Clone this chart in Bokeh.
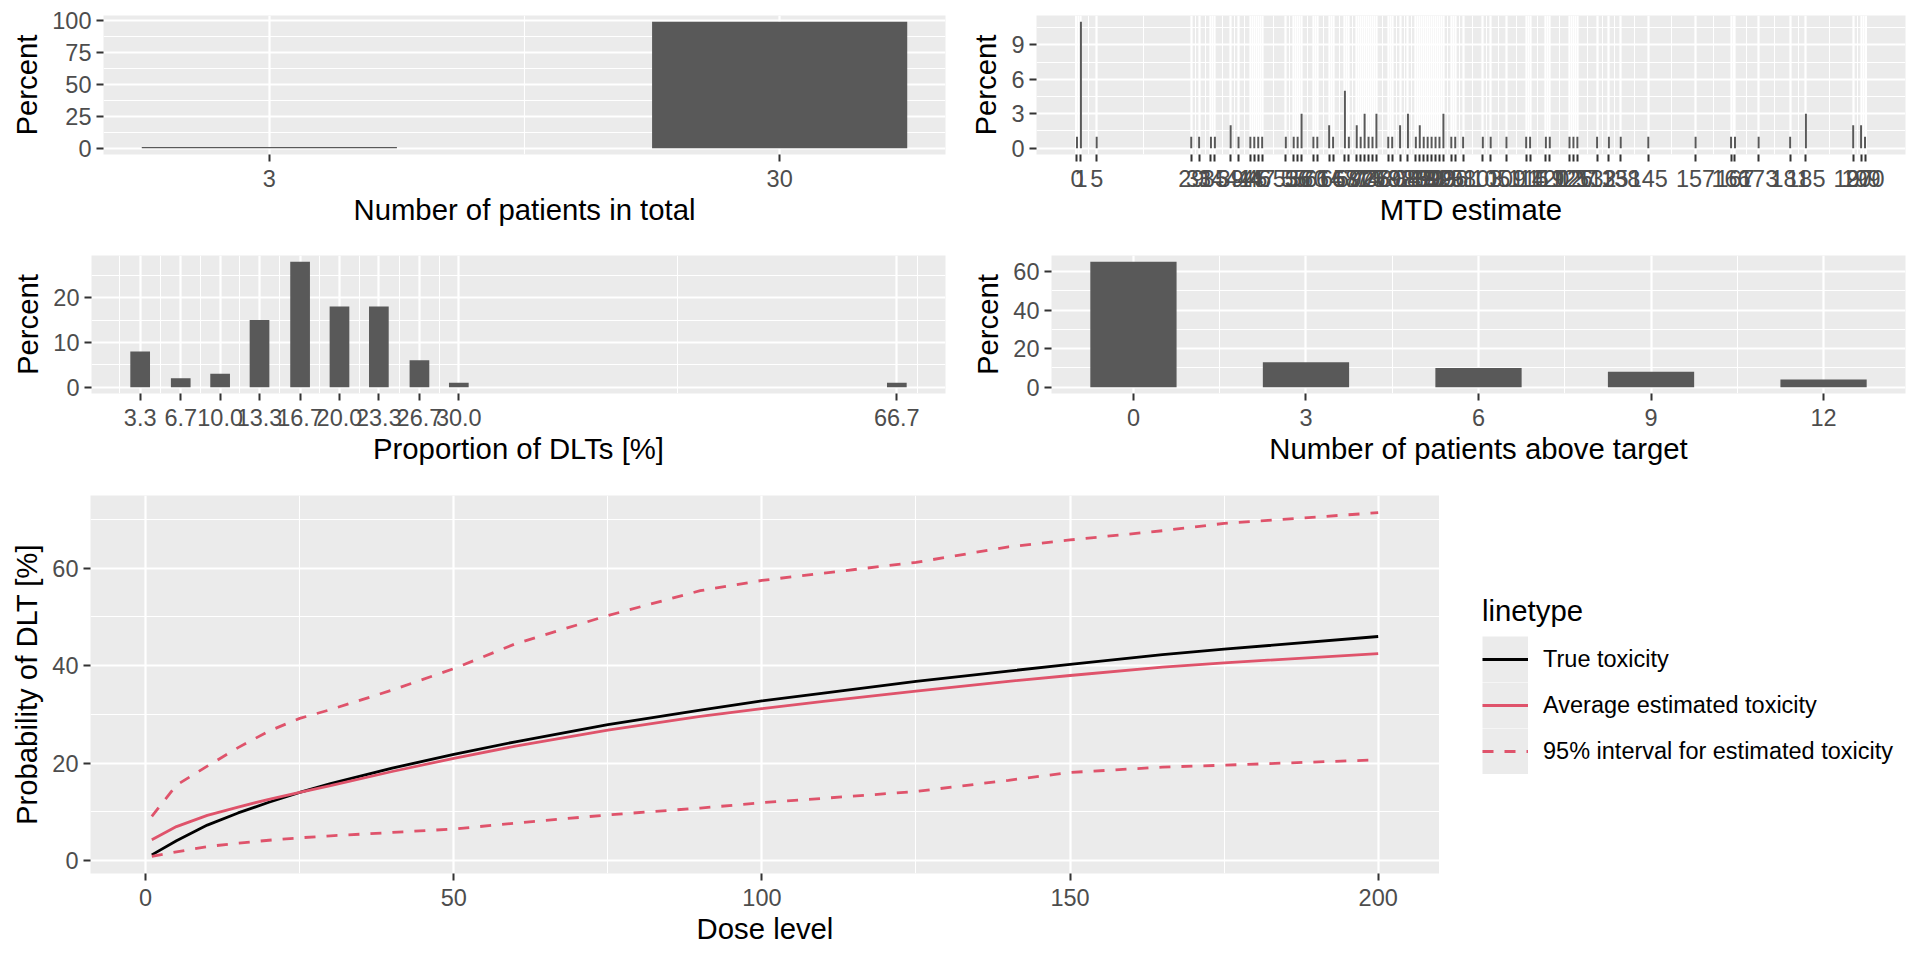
import numpy as np
from bokeh.plotting import figure
from bokeh.models import FixedTicker, Range1d, Legend, LegendItem, PrintfTickFormatter
from bokeh.layouts import row, column
from bokeh.embed import file_html
from bokeh.resources import INLINE

FONT = "Liberation Sans"
PANEL = "#EBEBEB"
BAR = "#595959"
RED = "#DF536B"
TICK_FS = "23.5px"
TITLE_FS = "29.3px"

# ---------------- data ----------------
patients_total = [3, 30]
patients_total_pct = [1, 99]

mtd_values = [0, 1, 5, 29, 31, 34, 35, 39, 41, 44, 45, 46, 47, 53, 55, 56, 57,
              60, 61, 64, 65, 68, 69, 71, 72, 73, 74, 75, 76, 79, 80, 82, 84,
              86, 87, 88, 89, 90, 91, 92, 93, 95, 96, 98, 103, 105, 109, 114,
              115, 119, 120, 125, 126, 127, 132, 135, 138, 145, 157, 166, 167,
              173, 181, 185, 197, 199, 200]
mtd_pct = [1, 11, 1, 1, 1, 1, 1, 2, 1, 1, 1, 1, 1, 1, 1, 1, 3,
           1, 1, 2, 1, 5, 1, 2, 1, 3, 1, 1, 3, 1, 1, 2, 3,
           1, 2, 1, 1, 1, 1, 1, 3, 1, 1, 1, 1, 1, 1, 1,
           1, 1, 1, 1, 1, 1, 1, 1, 1, 1, 1, 1, 1,
           1, 1, 3, 2, 2, 1]

dlt_values = [3.3, 6.7, 10.0, 13.3, 16.7, 20.0, 23.3, 26.7, 30.0, 66.7]
dlt_pct = [8, 2, 3, 15, 28, 18, 18, 6, 1, 1]

above_values = [0, 3, 6, 9, 12]
above_pct = [65, 13, 10, 8, 4]

dose = [1, 5, 10, 15, 20, 25, 30, 40, 50, 60, 75, 90, 100, 110, 125, 140, 150, 165, 175, 200]
true_tox = [1.2, 4.1, 7.3, 9.8, 12.0, 14.0, 15.8, 19.0, 21.8, 24.4, 27.9, 30.9, 32.8, 34.4, 36.8, 38.9, 40.3, 42.3, 43.4, 46.0]
avg_tox = [4.3, 7.0, 9.3, 11.0, 12.6, 14.0, 15.4, 18.3, 21.0, 23.5, 26.8, 29.6, 31.2, 32.7, 34.8, 36.8, 38.0, 39.7, 40.6, 42.5]
upper_tox = [9.1, 15.5, 19.4, 23.2, 26.6, 29.2, 31.0, 35.0, 39.4, 44.5, 50.3, 55.4, 57.5, 59.0, 61.2, 64.4, 65.8, 67.7, 69.2, 71.4]
lower_tox = [0.9, 1.8, 2.9, 3.6, 4.2, 4.7, 5.1, 5.8, 6.5, 7.7, 9.4, 10.8, 11.9, 12.8, 14.2, 16.5, 18.1, 19.2, 19.6, 20.7]

yt_total = [0, 25, 50, 75, 100]
yt_mtd = [0, 3, 6, 9]
yt_dlt = [0, 10, 20]
yt_above = [0, 20, 40, 60]
xt_dose = [0, 50, 100, 150, 200]
yt_dose = [0, 20, 40, 60]


# ---------------- helpers ----------------
def expand(lo, hi, mult=0.05):
    d = (hi - lo) * mult
    return lo - d, hi + d


def minor_breaks(major, lo, hi):
    b = list(major)
    if len(b) < 2:
        return []
    bd = b[1] - b[0]
    if lo < b[0]:
        b = [b[0] - bd] + b
    if hi > b[-1]:
        b = b + [b[-1] + bd]
    m = [(a + c) / 2 for a, c in zip(b[:-1], b[1:])]
    return [x for x in m if lo <= x <= hi]


def make_panel(width, height, left, right, top, bottom, xr, yr,
               xticks, yticks, xlabel, ylabel, xfmt=None):
    p = figure(width=width, height=height,
               x_range=Range1d(*xr), y_range=Range1d(*yr),
               output_backend="svg", toolbar_location=None,
               min_border_left=left, min_border_right=right,
               min_border_top=top, min_border_bottom=bottom)
    p.background_fill_color = PANEL
    p.border_fill_color = "white"
    p.outline_line_color = None
    xtk = FixedTicker(ticks=list(xticks), minor_ticks=minor_breaks(xticks, *xr))
    ytk = FixedTicker(ticks=list(yticks), minor_ticks=minor_breaks(yticks, *yr))
    p.xaxis.ticker = xtk
    p.yaxis.ticker = ytk
    p.xgrid.ticker = xtk
    p.ygrid.ticker = ytk
    if xfmt is not None:
        p.xaxis.formatter = xfmt
    for ax in (p.xaxis[0], p.yaxis[0]):
        ax.axis_line_color = None
        ax.major_tick_line_color = "#333333"
        ax.major_tick_line_width = 2
        ax.major_tick_out = 7
        ax.major_tick_in = 0
        ax.minor_tick_line_color = None
        ax.major_label_text_font = FONT
        ax.major_label_text_font_size = TICK_FS
        ax.major_label_text_color = "#4D4D4D"
        ax.axis_label_text_font = FONT
        ax.axis_label_text_font_size = TITLE_FS
        ax.axis_label_text_font_style = "normal"
        ax.axis_label_text_color = "black"
    p.xaxis.axis_label = xlabel
    p.yaxis.axis_label = ylabel
    p.xaxis.major_label_standoff = 8
    p.yaxis.major_label_standoff = 5
    p.xaxis.axis_label_standoff = 3
    p.yaxis.axis_label_standoff = 6
    for g in (p.xgrid[0], p.ygrid[0]):
        g.grid_line_color = "white"
        g.grid_line_width = 2.2
        g.minor_grid_line_color = "white"
        g.minor_grid_line_width = 1.1
    return p


def bar_panel(values, pct, yticks, xlabel, width, height, left, right, top, bottom, xfmt=None):
    res = float(np.min(np.diff(sorted(values))))
    w = 0.5 * res
    xr = expand(min(values) - w / 2, max(values) + w / 2)
    yr = expand(0, max(pct))
    p = make_panel(width, height, left, right, top, bottom, xr, yr,
                   values, yticks, xlabel, "Percent", xfmt)
    p.vbar(x=values, top=pct, bottom=0, width=w, fill_color=BAR, line_color=None)
    return p


# ---------------- panels ----------------
p1 = bar_panel(patients_total, patients_total_pct, yt_total, "Number of patients in total",
               960, 236, 103, 15, 15, 82)
p2 = bar_panel(mtd_values, mtd_pct, yt_mtd, "MTD estimate",
               952, 236, 76, 7, 15, 82)
p3 = bar_panel(dlt_values, dlt_pct, yt_dlt, "Proportion of DLTs [%]",
               960, 240, 91, 15, 19, 83, PrintfTickFormatter(format="%.1f"))
p4 = bar_panel(above_values, above_pct, yt_above, "Number of patients above target",
               952, 240, 91, 7, 19, 83)

all_y = true_tox + avg_tox + upper_tox + lower_tox
xr5 = expand(min(dose), max(dose))
yr5 = expand(min(all_y), max(all_y))
p5 = make_panel(1439, 476, 90, 0, 19, 79, xr5, yr5, xt_dose, yt_dose,
                "Dose level", "Probability of DLT [%]")
LW = 2.8
DASH = "11 11"
p5.line(dose, true_tox, line_color="black", line_width=LW)
p5.line(dose, avg_tox, line_color=RED, line_width=LW)
p5.line(dose, upper_tox, line_color=RED, line_width=LW, line_dash=DASH)
p5.line(dose, lower_tox, line_color=RED, line_width=LW, line_dash=DASH)

# ---------------- legend (style-only proxies, no visible data) ----------------
leg = figure(width=473, height=476, x_range=Range1d(0, 1), y_range=Range1d(0, 1),
             output_backend="svg", toolbar_location=None, min_border=0,
             x_axis_location=None, y_axis_location=None)
leg.outline_line_color = None
leg.background_fill_color = "white"
leg.border_fill_color = "white"
leg.xgrid.visible = False
leg.ygrid.visible = False
nan = [float("nan")]
bg = leg.line(x=nan, y=nan, line_color=PANEL, line_width=46)
k_true = leg.line(x=nan, y=nan, line_color="black", line_width=LW)
k_avg = leg.line(x=nan, y=nan, line_color=RED, line_width=LW)
k_ci = leg.line(x=nan, y=nan, line_color=RED, line_width=LW, line_dash=DASH)
legend = Legend(items=[
    LegendItem(label="True toxicity", renderers=[bg, k_true]),
    LegendItem(label="Average estimated toxicity", renderers=[bg, k_avg]),
    LegendItem(label="95% interval for estimated toxicity", renderers=[bg, k_ci]),
], location=(43, 99))
legend.title = "linetype"
legend.title_text_font = FONT
legend.title_text_font_size = TITLE_FS
legend.title_text_font_style = "normal"
legend.title_text_color = "black"
legend.title_standoff = 8
legend.label_text_font = FONT
legend.label_text_font_size = TICK_FS
legend.label_text_color = "black"
legend.glyph_width = 46
legend.glyph_height = 46
legend.label_height = 46
legend.label_standoff = 15
legend.spacing = 0
legend.padding = 0
legend.margin = 0
legend.border_line_color = None
legend.background_fill_alpha = 0
leg.add_layout(legend, "center")

layout = column(row(p1, p2), row(p3, p4), row(p5, leg))
open("out.html", "w").write(file_html(layout, INLINE))
